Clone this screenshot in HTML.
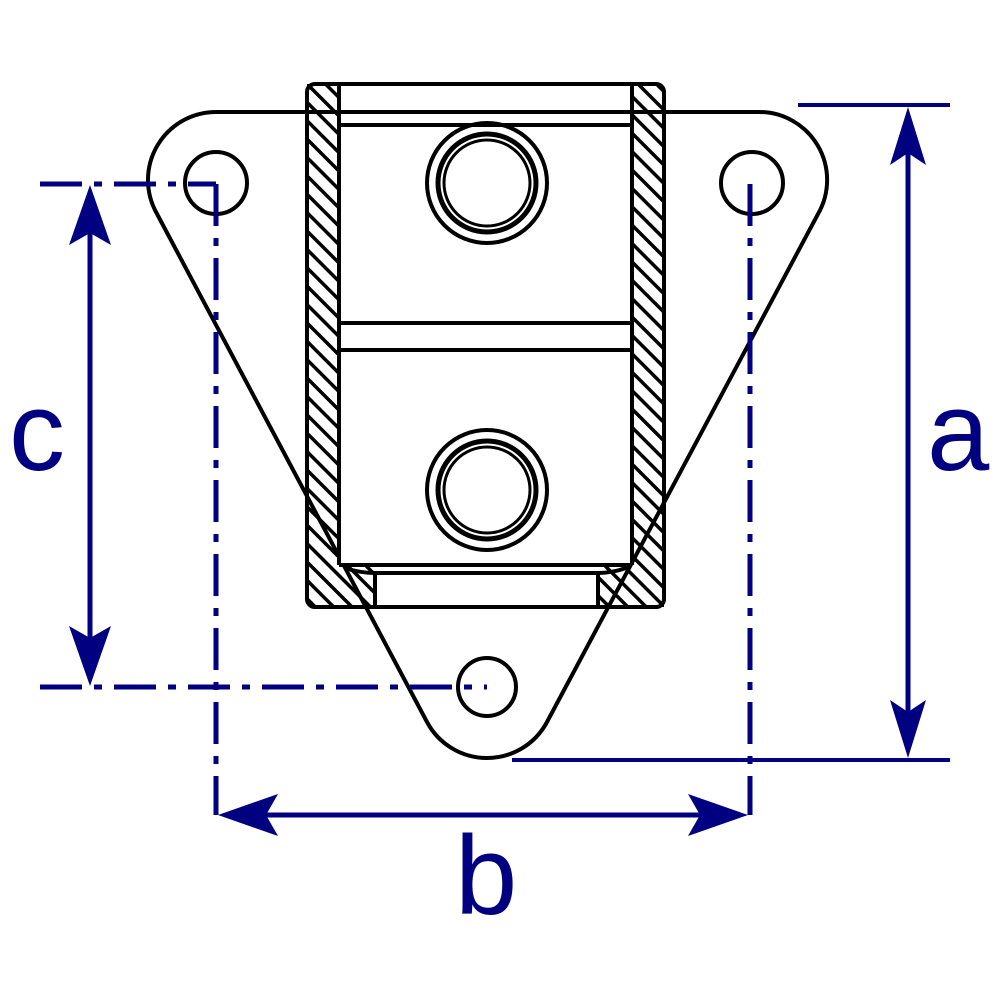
<!DOCTYPE html>
<html><head><style>html,body{margin:0;padding:0;background:#fff}</style></head><body>
<svg width="1000" height="1000" viewBox="0 0 1000 1000" xmlns="http://www.w3.org/2000/svg">
<defs>
<pattern id="h" patternUnits="userSpaceOnUse" width="13" height="13" patternTransform="rotate(-45)">
<rect width="13" height="13" fill="#fff"/><rect x="0" y="0" width="3.5" height="13" fill="#000"/>
</pattern>
</defs>
<rect x="307" y="84" width="32" height="523" fill="url(#h)"/>
<rect x="632" y="84" width="32" height="523" fill="url(#h)"/>
<rect x="339" y="565" width="36" height="42" fill="url(#h)"/>
<rect x="598" y="565" width="34" height="42" fill="url(#h)"/>
<path d="M216,112 L758,112 A68,68 0 0 1 818,214 L547,722 A68,68 0 0 1 427,722 L156,212 A68,68 0 0 1 216,112 Z" fill="none" stroke="#000" stroke-width="4"/>
<rect x="341" y="127" width="289" height="436" fill="#fff"/>
<rect x="377" y="573" width="219" height="32" fill="#fff"/>
<g fill="none" stroke="#000" stroke-width="4">
<rect x="307" y="84" width="357" height="523" rx="8"/>
<line x1="339" y1="84" x2="339" y2="565"/>
<line x1="632" y1="84" x2="632" y2="565"/>
<line x1="339" y1="125" x2="632" y2="125"/>
<line x1="339" y1="323" x2="632" y2="323"/>
<line x1="339" y1="350" x2="632" y2="350"/>
<line x1="339" y1="565" x2="632" y2="565"/>
<path d="M345,568 Q360,573 375,573 L598,573 Q612,573 626,568"/>
<line x1="375" y1="573" x2="375" y2="607"/>
<line x1="598" y1="573" x2="598" y2="607"/>
<circle cx="487" cy="183" r="60"/>
<circle cx="487" cy="183" r="49" stroke-width="5"/>
<circle cx="487" cy="183" r="43" stroke-width="3"/>
<circle cx="487" cy="490" r="60"/>
<circle cx="487" cy="490" r="49" stroke-width="5"/>
<circle cx="487" cy="490" r="43" stroke-width="3"/>
<circle cx="216" cy="183" r="31"/>
<circle cx="752" cy="183" r="31"/>
<circle cx="487" cy="687" r="29"/>
</g>
<g stroke="#000080" stroke-width="5" fill="none">
<path d="M40,184 H216 M40,687 H487 M216,184 V815 M750,184 V815" stroke-dasharray="42 12 8 12"/>
<line x1="798" y1="105" x2="950" y2="105" stroke-width="4"/>
<line x1="512" y1="760" x2="950" y2="760" stroke-width="4"/>
<line x1="908" y1="130" x2="908" y2="740"/>
<line x1="90" y1="210" x2="90" y2="665"/>
<line x1="240" y1="815" x2="725" y2="815"/>
</g>
<g fill="#000080">
<polygon points="908,107 890,165 908,153 926,165"/>
<polygon points="908,758 890,700 908,712 926,700"/>
<polygon points="90,185 69,245 90,233 111,245"/>
<polygon points="90,686 69,626 90,638 111,626"/>
<polygon points="218,815 278,794 266,815 278,836"/>
<polygon points="748,815 688,794 700,815 688,836"/>
</g>
<g fill="#000080" font-family="Liberation Sans, sans-serif" font-size="112">
<text x="927" y="470">a</text>
<text x="9" y="470">c</text>
<text x="455" y="914">b</text>
</g>
</svg>
</body></html>
